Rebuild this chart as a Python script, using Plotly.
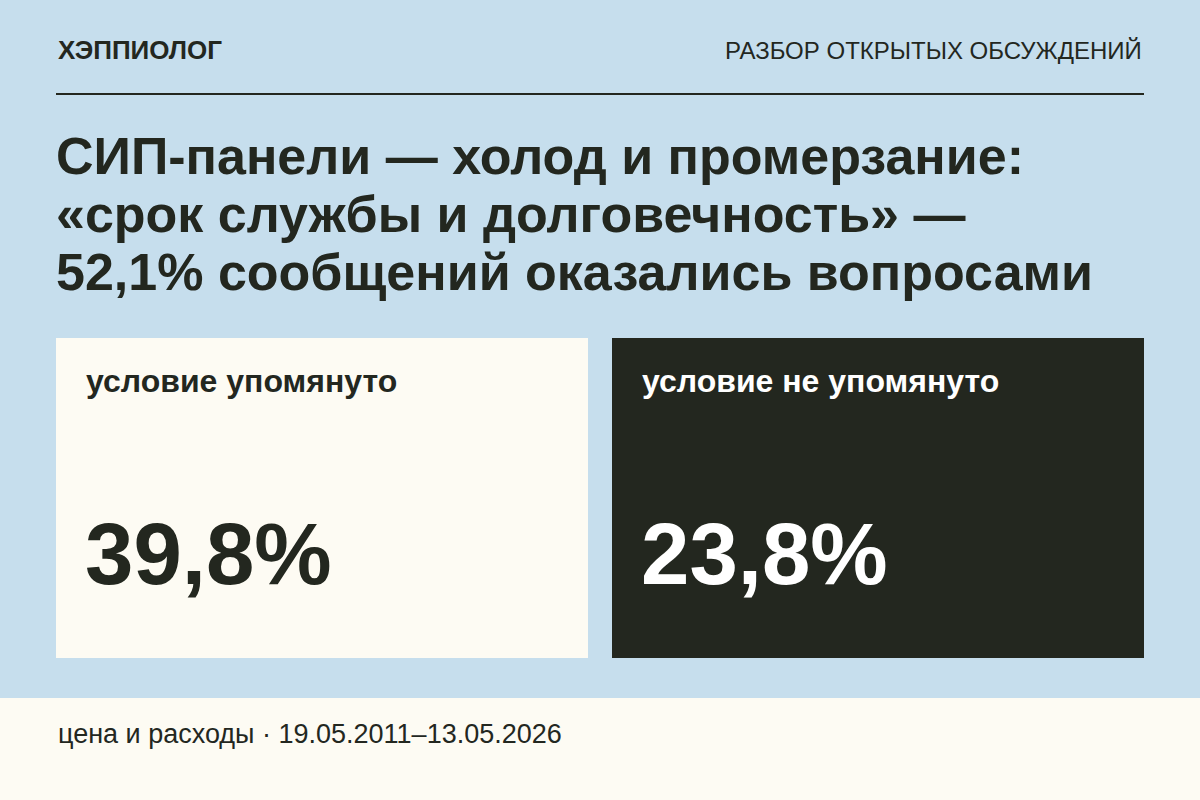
import plotly.graph_objects as go

brand = "ХЭППИОЛОГ"
section = "РАЗБОР ОТКРЫТЫХ ОБСУЖДЕНИЙ"
title_lines = ["СИП-панели — холод и промерзание:",
               "«срок службы и долговечность» —",
               "52,1% сообщений оказались вопросами"]
labels = ["условие упомянуто", "условие не упомянуто"]
values = [39.8, 23.8]
footer = "цена и расходы · 19.05.2011–13.05.2026"

BG = "#c6deed"
CREAM = "#fdfbf3"
DARK = "#23271f"
FONT = "Liberation Sans, Arial, sans-serif"

fig = go.Figure()
shapes = [
    dict(type="rect", x0=0, x1=1200, y0=698, y1=800, fillcolor=CREAM, line_width=0, layer="below"),
    dict(type="line", x0=56, x1=1144, y0=94, y1=94, line=dict(color=DARK, width=2)),
]
ann = [
    dict(x=56, y=50, text=f"<b>{brand}</b>", xanchor="left", font=dict(size=26, color=DARK)),
    dict(x=1144, y=50, text=section, xanchor="right", font=dict(size=24, color=DARK)),
    dict(x=56, y=734, text=footer, xanchor="left", font=dict(size=27, color=DARK)),
]
for i, line in enumerate(title_lines):
    ann.append(dict(x=54, y=156 + i * 58, text=f"<b>{line}</b>", xanchor="left",
                    font=dict(size=52, color=DARK)))
panel_x = [56, 612]
fills = [CREAM, DARK]
txt = [DARK, "#ffffff"]
for i, (lab, v) in enumerate(zip(labels, values)):
    x0 = panel_x[i]
    shapes.append(dict(type="rect", x0=x0, x1=x0 + 532, y0=338, y1=658,
                       fillcolor=fills[i], line_width=0, layer="below"))
    ann.append(dict(x=x0 + 28, y=381, text=f"<b>{lab}</b>", xanchor="left",
                    font=dict(size=32, color=txt[i])))
    ann.append(dict(x=x0 + 27, y=553, text="<b>" + f"{v:.1f}".replace(".", ",") + "%</b>",
                    xanchor="left", font=dict(size=87, color=txt[i])))
for a in ann:
    a.update(xref="x", yref="y", showarrow=False, yanchor="middle")

fig.update_layout(
    width=1200, height=800, margin=dict(l=0, r=0, t=0, b=0),
    paper_bgcolor=BG, plot_bgcolor=BG, font=dict(family=FONT),
    shapes=shapes, annotations=ann, showlegend=False,
    xaxis=dict(range=[0, 1200], visible=False, fixedrange=True),
    yaxis=dict(range=[800, 0], visible=False, fixedrange=True),
)
fig.write_html("out.html", config={"displayModeBar": False},
               post_script="document.body.style.margin='0';")
